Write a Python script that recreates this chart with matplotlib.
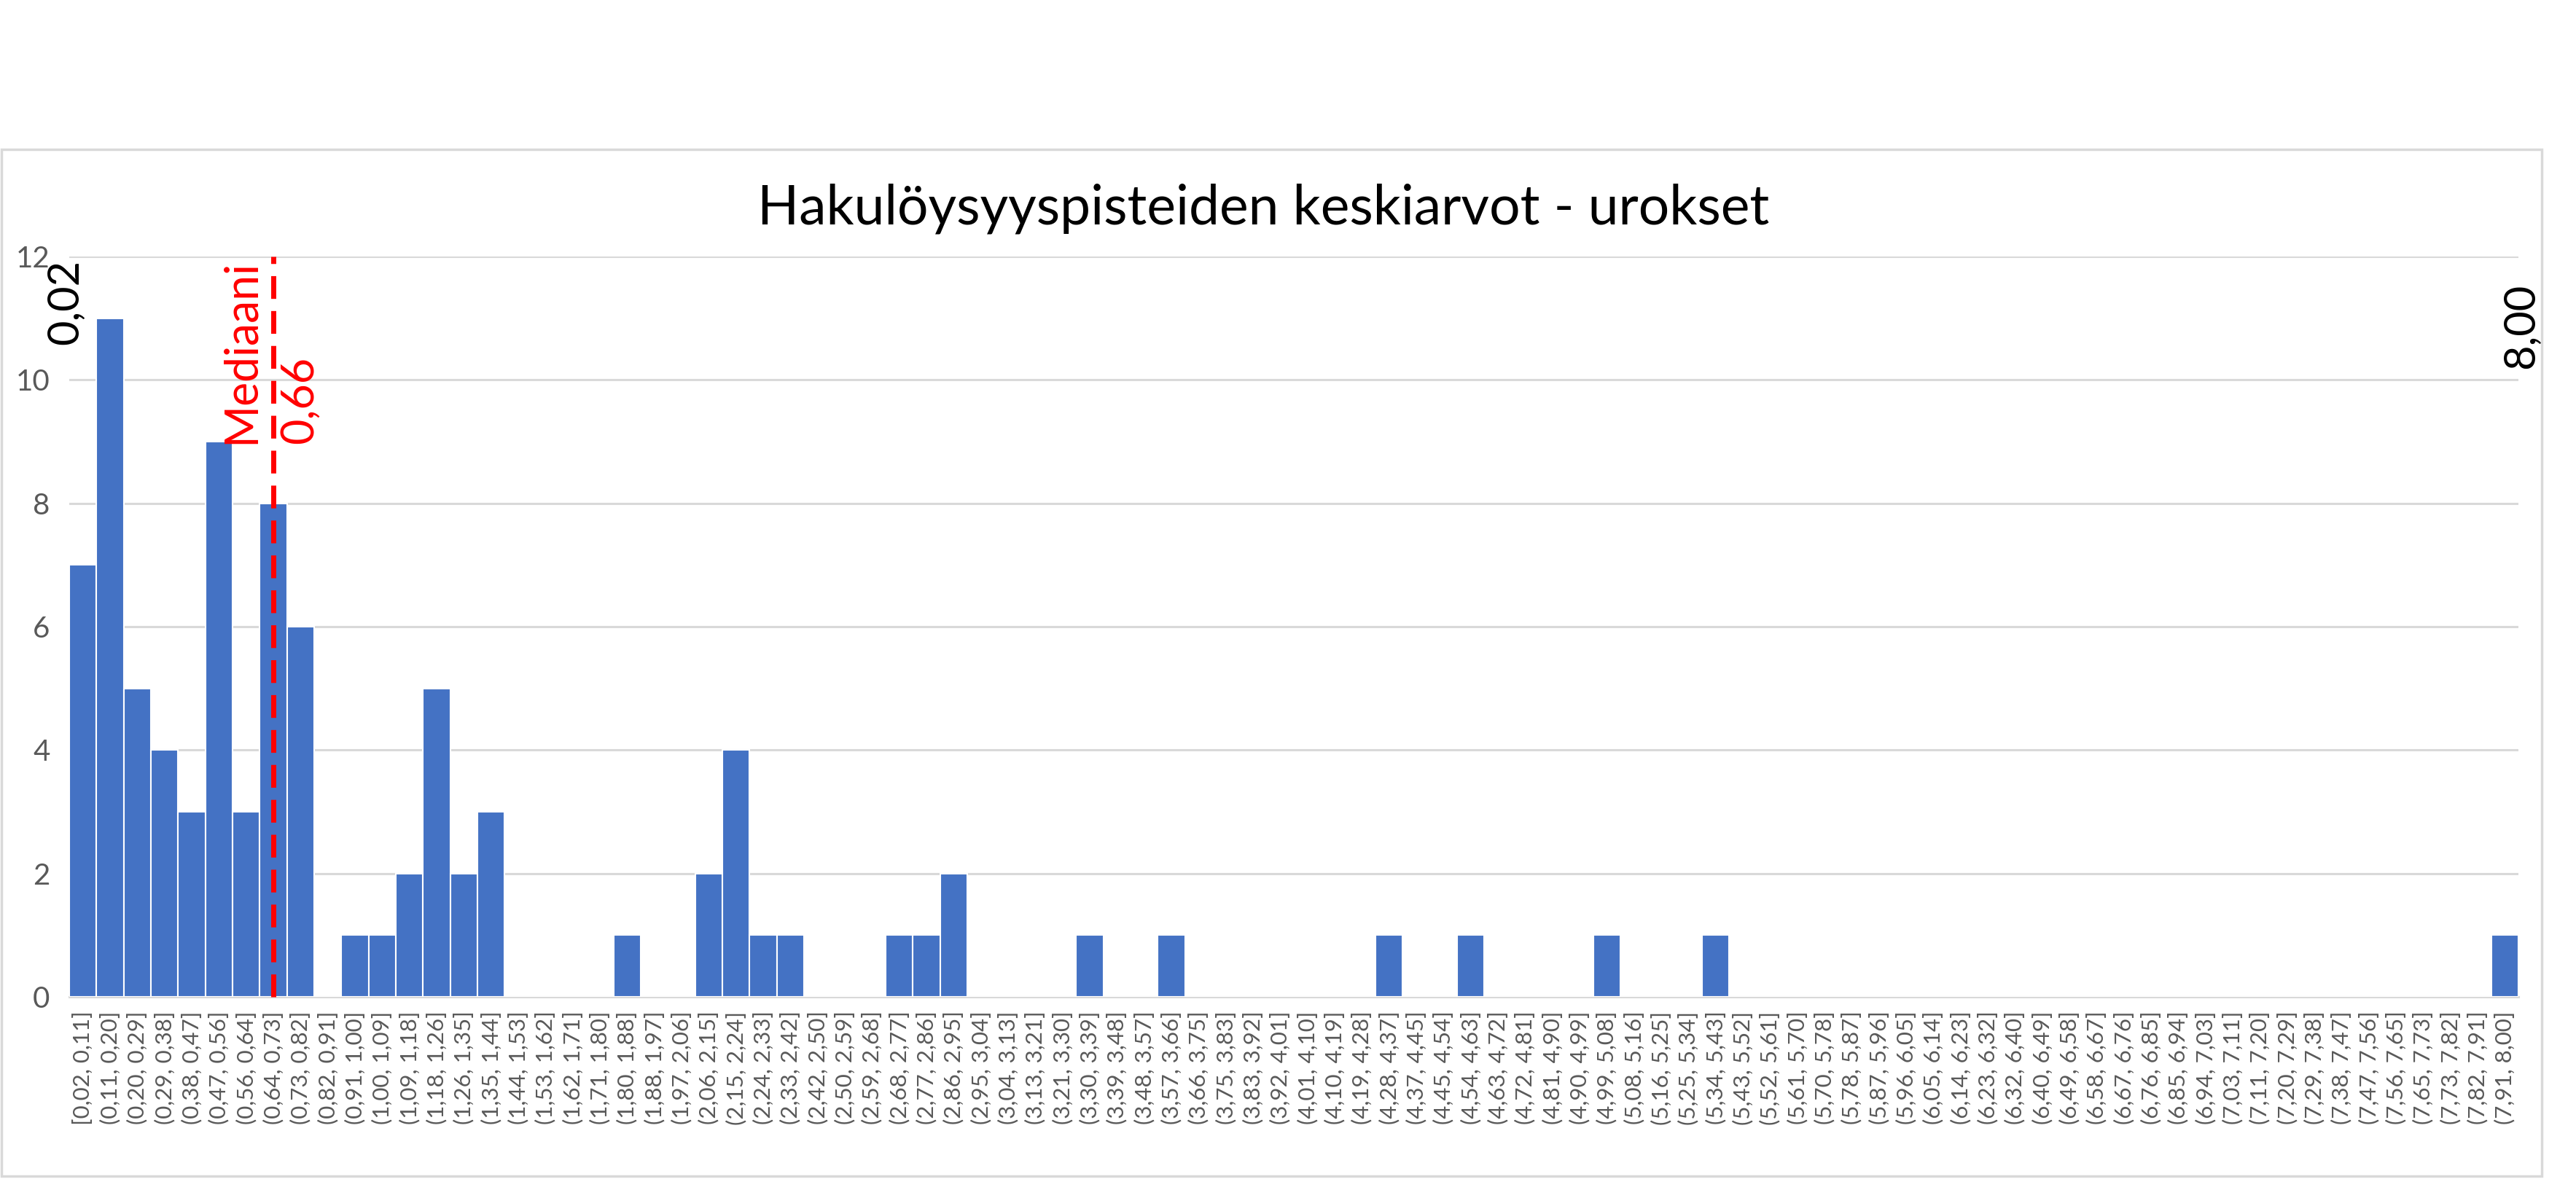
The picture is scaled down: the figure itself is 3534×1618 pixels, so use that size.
import matplotlib
matplotlib.use("Agg")
import matplotlib.pyplot as plt
from matplotlib.patches import Rectangle

plt.rcParams['font.family'] = ['Lato', 'DejaVu Sans']

# Bin edges of the histogram (decimal comma labels)
bin_edges = ["0,02", "0,11", "0,20", "0,29", "0,38", "0,47", "0,56", "0,64", "0,73", "0,82",
             "0,91", "1,00", "1,09", "1,18", "1,26", "1,35", "1,44", "1,53", "1,62", "1,71",
             "1,80", "1,88", "1,97", "2,06", "2,15", "2,24", "2,33", "2,42", "2,50", "2,59",
             "2,68", "2,77", "2,86", "2,95", "3,04", "3,13", "3,21", "3,30", "3,39", "3,48",
             "3,57", "3,66", "3,75", "3,83", "3,92", "4,01", "4,10", "4,19", "4,28", "4,37",
             "4,45", "4,54", "4,63", "4,72", "4,81", "4,90", "4,99", "5,08", "5,16", "5,25",
             "5,34", "5,43", "5,52", "5,61", "5,70", "5,78", "5,87", "5,96", "6,05", "6,14",
             "6,23", "6,32", "6,40", "6,49", "6,58", "6,67", "6,76", "6,85", "6,94", "7,03",
             "7,11", "7,20", "7,29", "7,38", "7,47", "7,56", "7,65", "7,73", "7,82", "7,91",
             "8,00"]

# Counts per bin
counts = [7, 11, 5, 4, 3, 9, 3, 8, 6, 0,
          1, 1, 2, 5, 2, 3, 0, 0, 0, 0,
          1, 0, 0, 2, 4, 1, 1, 0, 0, 0,
          1, 1, 2, 0, 0, 0, 0, 1, 0, 0,
          1, 0, 0, 0, 0, 0, 0, 0, 1, 0,
          0, 1, 0, 0, 0, 0, 1, 0, 0, 0,
          1, 0, 0, 0, 0, 0, 0, 0, 0, 0,
          0, 0, 0, 0, 0, 0, 0, 0, 0, 0,
          0, 0, 0, 0, 0, 0, 0, 0, 0, 1]

median_value = 0.66
min_label = "0,02"
max_label = "8,00"
title = "Hakulöysyyspisteiden keskiarvot - urokset"

edge_vals = [float(e.replace(",", ".")) for e in bin_edges]
labels = []
for i in range(len(counts)):
    lo, hi = bin_edges[i], bin_edges[i + 1]
    labels.append(("[" if i == 0 else "(") + f"{lo}, {hi}]")

W, H = 3534, 1618
fig = plt.figure(figsize=(W / 100, H / 100), dpi=100)

# Chart frame
fig.patches.append(Rectangle((2 / W, 1 - 1614 / H), (3487 - 2) / W, (1614 - 205) / H,
                             transform=fig.transFigure, fill=False,
                             edgecolor="#D9D9D9", linewidth=2.5, zorder=0))

ax_l, ax_r, ax_t, ax_b = 95, 3455, 352, 1368
ax = fig.add_axes([ax_l / W, 1 - ax_b / H, (ax_r - ax_l) / W, (ax_b - ax_t) / H])

x = list(range(len(counts)))
ax.bar(x, counts, width=1.0, color="#4472C4", edgecolor="white", linewidth=1.5, zorder=3)

ax.set_xlim(-0.5, len(counts) - 0.5)
ax.set_ylim(0, 12)
ax.set_yticks(range(0, 13, 2))
ax.grid(axis="y", color="#D9D9D9", linewidth=2.2, zorder=0)
for s in ["top", "right", "left"]:
    ax.spines[s].set_visible(False)
ax.spines["bottom"].set_color("#D9D9D9")
ax.spines["bottom"].set_linewidth(2.2)
ax.tick_params(axis="y", length=0, pad=19, labelsize=29, labelcolor="#595959")
ax.tick_params(axis="x", length=0, pad=14, labelsize=22.5, labelcolor="#595959")
ax.set_xticks(x)
ax.set_xticklabels(labels, rotation=90, va="top", ha="center")

# Median marker
mbin = next(i for i in range(len(counts)) if edge_vals[i] <= median_value <= edge_vals[i + 1])
ax.plot([mbin, mbin], [0, 12], color="#FF0000", linewidth=5, dashes=(4.5, 2.4),
        zorder=4, clip_on=False)
ax.annotate("Mediaani", xy=(mbin, 8.96), xytext=(-32, 0), textcoords="offset points",
            rotation=90, ha="center", va="bottom", color="#FF0000", fontsize=45)
ax.annotate(f"{median_value:.2f}".replace(".", ","), xy=(mbin, 8.96), xytext=(26, 0),
            textcoords="offset points", rotation=90, ha="center", va="bottom",
            color="#FF0000", fontsize=44)

# Range end labels
ax.text(-0.62, 11.95, min_label, rotation=90, ha="center", va="top", fontsize=43, color="black")
ax.text(89.6, 11.57, max_label, rotation=90, ha="center", va="top", fontsize=43, color="black",
        clip_on=False)

fig.text(1733 / W, 1 - 286 / H, title, ha="center", va="center", fontsize=54, color="black")

fig.savefig("out.png", dpi=100, facecolor="white")
